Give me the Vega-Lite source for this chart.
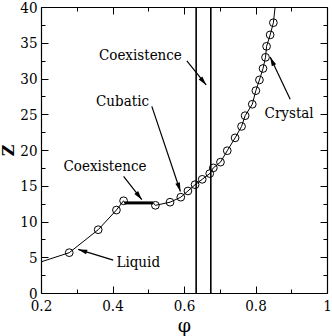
{
  "$schema": "https://vega.github.io/schema/vega-lite/v6.json",
  "width": 286,
  "height": 286,
  "autosize": "none",
  "padding": {"left": 41, "top": 7, "right": 5, "bottom": 43},
  "config": {
    "view": {"stroke": null},
    "font": "DejaVu Serif Condensed",
    "axis": {"grid": false, "domainColor": "black", "tickColor": "black", "labelColor": "black", "titleColor": "black", "labelFont": "DejaVu Serif Condensed", "titleFont": "DejaVu Serif", "labelFlush": false, "labelOverlap": false}
  },
  "datasets": {
    "curve": [
      {"phi": 0.2, "Z": 4.35},
      {"phi": 0.279, "Z": 5.64},
      {"phi": 0.36, "Z": 8.85},
      {"phi": 0.411, "Z": 11.6},
      {"phi": 0.431, "Z": 12.9},
      {"phi": 0.434, "Z": 12.6},
      {"phi": 0.514, "Z": 12.6},
      {"phi": 0.52, "Z": 12.26},
      {"phi": 0.561, "Z": 12.7},
      {"phi": 0.591, "Z": 13.4},
      {"phi": 0.611, "Z": 14.27},
      {"phi": 0.631, "Z": 15.15},
      {"phi": 0.651, "Z": 15.9},
      {"phi": 0.672, "Z": 16.7},
      {"phi": 0.682, "Z": 17.5},
      {"phi": 0.702, "Z": 18.3},
      {"phi": 0.721, "Z": 19.9},
      {"phi": 0.743, "Z": 21.7},
      {"phi": 0.761, "Z": 23.3},
      {"phi": 0.771, "Z": 24.8},
      {"phi": 0.791, "Z": 26.4},
      {"phi": 0.801, "Z": 28.3},
      {"phi": 0.811, "Z": 29.8},
      {"phi": 0.821, "Z": 31.4},
      {"phi": 0.828, "Z": 32.96},
      {"phi": 0.831, "Z": 34.5},
      {"phi": 0.841, "Z": 36.1},
      {"phi": 0.85, "Z": 37.8},
      {"phi": 0.856, "Z": 40.5}
    ],
    "markers": [
      {"phi": 0.279, "Z": 5.64},
      {"phi": 0.36, "Z": 8.85},
      {"phi": 0.411, "Z": 11.6},
      {"phi": 0.431, "Z": 12.9},
      {"phi": 0.52, "Z": 12.26},
      {"phi": 0.561, "Z": 12.7},
      {"phi": 0.591, "Z": 13.4},
      {"phi": 0.611, "Z": 14.27},
      {"phi": 0.631, "Z": 15.15},
      {"phi": 0.651, "Z": 15.9},
      {"phi": 0.672, "Z": 16.7},
      {"phi": 0.682, "Z": 17.5},
      {"phi": 0.702, "Z": 18.3},
      {"phi": 0.721, "Z": 19.9},
      {"phi": 0.743, "Z": 21.7},
      {"phi": 0.761, "Z": 23.3},
      {"phi": 0.771, "Z": 24.8},
      {"phi": 0.791, "Z": 26.4},
      {"phi": 0.801, "Z": 28.3},
      {"phi": 0.811, "Z": 29.8},
      {"phi": 0.821, "Z": 31.4},
      {"phi": 0.828, "Z": 32.96},
      {"phi": 0.831, "Z": 34.5},
      {"phi": 0.841, "Z": 36.1},
      {"phi": 0.85, "Z": 37.8}
    ],
    "coex": [
      {"phi": 0.434, "Z": 12.6},
      {"phi": 0.514, "Z": 12.6}
    ],
    "phase": [
      {"phi": 0.634},
      {"phi": 0.675}
    ],
    "arrows": [
      {"label": "Coexistence (cubatic-crystal)", "phi": 0.608, "Z": 32.45, "phi2": 0.662, "Z2": 29.1, "ang": 141},
      {"label": "Cubatic", "phi": 0.51, "Z": 26.1, "phi2": 0.59, "Z2": 14.2, "ang": 162},
      {"label": "Coexistence (liquid-cubatic)", "phi": 0.431, "Z": 16.3, "phi2": 0.482, "Z2": 13.05, "ang": 142},
      {"label": "Liquid", "phi": 0.402, "Z": 4.6, "phi2": 0.304, "Z2": 6.1, "ang": -73},
      {"label": "Crystal", "phi": 0.897, "Z": 27.1, "phi2": 0.841, "Z2": 33.0, "ang": -25}
    ],
    "labels": [
      {"text": "Coexistence", "phi": 0.478, "Z": 32.6},
      {"text": "Cubatic", "phi": 0.428, "Z": 26.15},
      {"text": "Coexistence", "phi": 0.379, "Z": 17.13},
      {"text": "Liquid", "phi": 0.472, "Z": 3.64},
      {"text": "Crystal", "phi": 0.894, "Z": 24.43}
    ]
  },
  "layer": [
    {
      "data": {"name": "curve"},
      "mark": {"type": "line", "color": "black", "strokeWidth": 1, "clip": true},
      "encoding": {
        "x": {"field": "phi", "type": "quantitative", "scale": {"domain": [0.2, 1], "nice": false, "zero": false},
          "axis": {"orient": "bottom", "ticks": false, "values": [0.2, 0.4, 0.6, 0.8, 1], "format": "~g", "labelFontSize": 15, "labelPadding": 5, "title": "φ", "titleFontSize": 19, "titleFontWeight": "normal", "titlePadding": 3, "domainWidth": 1.2}},
        "y": {"field": "Z", "type": "quantitative", "scale": {"domain": [0, 40], "nice": false, "zero": false},
          "axis": {"orient": "left", "ticks": false, "values": [0, 5, 10, 15, 20, 25, 30, 35, 40], "format": "~g", "labelFontSize": 15, "labelPadding": 4, "title": "Z", "titleFontSize": 16, "titleFontWeight": "bold", "titlePadding": 3, "domainWidth": 1.2}}
      }
    },
    {
      "data": {"name": "markers"},
      "mark": {"type": "point", "shape": "circle", "filled": false, "color": "black", "strokeWidth": 1, "size": 60, "opacity": 1},
      "encoding": {
        "x": {"field": "phi", "type": "quantitative", "scale": {"domain": [0.2, 1], "nice": false, "zero": false},
          "axis": {"orient": "bottom", "labels": false, "domain": false, "title": null, "values": [0.2, 0.3, 0.4, 0.5, 0.6, 0.7, 0.8, 0.9, 1],
            "tickSize": {"condition": {"test": "round(datum.value*10)%2==0", "value": -7}, "value": -4}}},
        "y": {"field": "Z", "type": "quantitative", "scale": {"domain": [0, 40], "nice": false, "zero": false},
          "axis": {"orient": "left", "labels": false, "domain": false, "title": null, "values": [0, 2.5, 5, 7.5, 10, 12.5, 15, 17.5, 20, 22.5, 25, 27.5, 30, 32.5, 35, 37.5, 40],
            "tickSize": {"condition": {"test": "datum.value%5==0", "value": -7}, "value": -4}}}
      }
    },
    {
      "data": {"name": "coex"},
      "mark": {"type": "line", "color": "black", "strokeWidth": 3},
      "encoding": {
        "x": {"field": "phi", "type": "quantitative", "scale": {"domain": [0.2, 1], "nice": false, "zero": false},
          "axis": {"orient": "top", "labels": false, "domain": true, "domainWidth": 1.2, "title": null, "values": [0.2, 0.3, 0.4, 0.5, 0.6, 0.7, 0.8, 0.9, 1],
            "tickSize": {"condition": {"test": "round(datum.value*10)%2==0", "value": -7}, "value": -4}}},
        "y": {"field": "Z", "type": "quantitative", "scale": {"domain": [0, 40], "nice": false, "zero": false},
          "axis": {"orient": "right", "labels": false, "domain": true, "domainWidth": 1.2, "title": null, "values": [0, 2.5, 5, 7.5, 10, 12.5, 15, 17.5, 20, 22.5, 25, 27.5, 30, 32.5, 35, 37.5, 40],
            "tickSize": {"condition": {"test": "datum.value%5==0", "value": -7}, "value": -4}}}
      }
    },
    {
      "data": {"name": "phase"},
      "mark": {"type": "rule", "color": "black", "strokeWidth": 1.6},
      "encoding": {
        "x": {"field": "phi", "type": "quantitative", "axis": null}
      }
    },
    {
      "data": {"name": "arrows"},
      "mark": {"type": "rule", "color": "black", "strokeWidth": 1.2},
      "encoding": {
        "x": {"field": "phi", "type": "quantitative", "axis": null},
        "y": {"field": "Z", "type": "quantitative", "axis": null},
        "x2": {"field": "phi2"},
        "y2": {"field": "Z2"}
      }
    },
    {
      "data": {"name": "arrows"},
      "mark": {"type": "point", "shape": "M0,0L-0.8,3L0.8,3Z", "filled": true, "color": "black", "size": 36, "opacity": 1},
      "encoding": {
        "x": {"field": "phi2", "type": "quantitative", "axis": null},
        "y": {"field": "Z2", "type": "quantitative", "axis": null},
        "angle": {"field": "ang", "type": "quantitative", "scale": null}
      }
    },
    {
      "data": {"name": "labels"},
      "mark": {"type": "text", "font": "DejaVu Serif Condensed", "fontSize": 15, "align": "center", "baseline": "alphabetic", "color": "black"},
      "encoding": {
        "x": {"field": "phi", "type": "quantitative", "axis": null},
        "y": {"field": "Z", "type": "quantitative", "axis": null},
        "text": {"field": "text"}
      }
    }
  ],
  "resolve": {"axis": {"x": "independent", "y": "independent"}}
}
